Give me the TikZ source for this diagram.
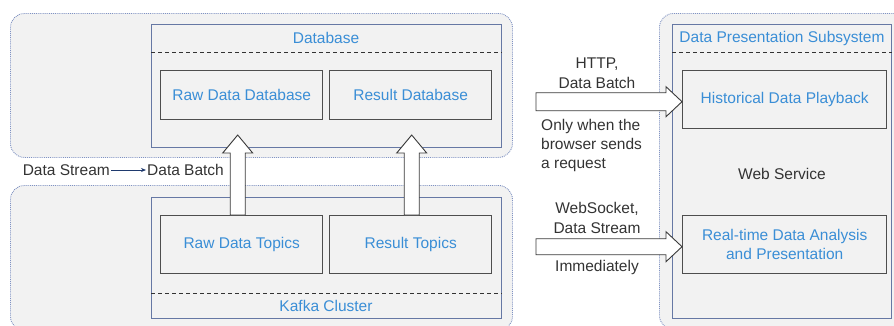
\documentclass[tikz,border=0pt]{standalone}
\usepackage{fontspec}
\setmainfont{Liberation Sans}
\usetikzlibrary{arrows.meta,calc}
\definecolor{bgc}{HTML}{F2F2F2}
\definecolor{outerc}{HTML}{7F92C2}
\definecolor{contc}{HTML}{6678A4}
\definecolor{boxc}{HTML}{4E4E4E}
\definecolor{txtblue}{HTML}{3A8ED6}
\definecolor{txtdark}{HTML}{333333}
\definecolor{arrc}{HTML}{3A3A3A}
\definecolor{navy}{HTML}{1F3A6E}
\tikzset{
  outerbox/.style={draw=outerc, densely dotted, fill=bgc, rounded corners=14pt, line width=0.9pt, anchor=north west},
  container/.style={draw=contc, line width=1.2pt, fill=bgc, anchor=north west},
  inbox/.style={draw=boxc, line width=1.4pt, fill=bgc, text=txtblue, align=center, font=\fontsize{15.5}{19}\selectfont, anchor=north west},
  bluelabel/.style={text=txtblue, font=\fontsize{15.5}{19}\selectfont, inner sep=0pt},
  darklabel/.style={text=txtdark, font=\fontsize{15.5}{19.5}\selectfont, inner sep=0pt},
  divider/.style={draw=txtdark, dashed, line width=0.9pt, dash pattern=on 4pt off 3pt},
  barrow/.style={draw=arrc, fill=white, line width=0.9pt, line join=miter},
  thinarrow/.style={draw=navy, line width=0.8pt, -{Stealth[length=5pt,width=4pt]}}
}
\begin{document}
\begin{tikzpicture}[x=1pt,y=1pt]
\useasboundingbox (0,0) rectangle (894,-325);
\begin{scope}
\clip (0,0) rectangle (894,-325);
% outer dotted regions
\node[outerbox, minimum width=502pt, minimum height=144pt] (topouter) at (10,-13) {};
\node[outerbox, minimum width=502pt, minimum height=145pt] (botouter) at (10,-185) {};
\node[outerbox, minimum width=250pt, minimum height=316pt] (rightouter) at (659,-13) {};
% containers
\node[container, minimum width=350pt, minimum height=123pt] (db) at (151,-24) {};
\node[container, minimum width=350pt, minimum height=121pt] (kafka) at (151,-197) {};
\node[container, minimum width=219pt, minimum height=294pt] (pres) at (672,-24) {};
\end{scope}
% dividers
\draw[divider] ($(db.north west)+(0,-28)$) coordinate (dbl) -- ($(db.north east)+(0,-28)$) coordinate (dbr);
\draw[divider] ($(kafka.south west)+(0,26)$) coordinate (kl) -- ($(kafka.south east)+(0,26)$) coordinate (kr);
\draw[divider] ($(pres.north west)+(0,-28)$) coordinate (pl) -- ($(pres.north east)+(0,-28)$) coordinate (pr);
% container labels
\node[bluelabel] (dblabel) at (326,-38) {Database};
\node[bluelabel] (kafkalabel) at (326,-306) {Kafka Cluster};
\node[bluelabel] (preslabel) at (782,-38) {Data Presentation Subsystem};
% inner boxes
\node[inbox, minimum width=162pt, minimum height=49pt] (rdd) at (160,-70) {Raw Data Database};
\node[inbox, minimum width=162pt, minimum height=49pt] (resdb) at (329,-70) {Result Database};
\node[inbox, minimum width=162pt, minimum height=58pt] (rdt) at (160,-215) {Raw Data Topics};
\node[inbox, minimum width=162pt, minimum height=58pt] (rest) at (329,-215) {Result Topics};
\node[inbox, minimum width=204pt, minimum height=58pt] (hdp) at (682,-70) {Historical Data Playback};
\node[inbox, minimum width=204pt, minimum height=58pt] (rta) at (682,-215) {Real-time Data Analysis\\and Presentation};
% text labels
\node[darklabel] (ws) at (782,-174) {Web Service};
\node[darklabel, anchor=east] (ds) at (110,-170) {Data Stream};
\node[darklabel, anchor=west] (dbatch) at (147,-170) {Data Batch};
\draw[thinarrow] ([xshift=1pt]ds.east) -- ([xshift=-1pt]dbatch.west);
\node[darklabel, align=center] (http) at (597,-73) {HTTP,\\Data Batch};
\node[darklabel, align=left, anchor=north west, font=\fontsize{15.5}{19}\selectfont] (only) at (541,-119) {Only when the\\browser sends\\a request};
\node[darklabel, align=center] (wsock) at (597,-218) {WebSocket,\\Data Stream};
\node[darklabel] (imm) at (597,-267) {Immediately};
% vertical block arrows
\draw[barrow] ([xshift=-11.5pt]rdt.north) -- ++(0,62) -- ++(-7.5,0) -- ++(15,18) -- ++(15,-18) -- ++(-7.5,0) -- ++(0,-62) -- cycle;
\draw[barrow] ([xshift=-6.5pt]rest.north) -- ++(0,62) -- ++(-7.5,0) -- ++(15,18) -- ++(15,-18) -- ++(-7.5,0) -- ++(0,-62) -- cycle;
% horizontal block arrows
\draw[barrow] ([yshift=-2pt]hdp.west) -- ++(-16,15) -- ++(0,-6) -- ++(-130,0) -- ++(0,-18) -- ++(130,0) -- ++(0,-6) -- cycle;
\draw[barrow] ([yshift=-2pt]rta.west) -- ++(-16,15) -- ++(0,-7) -- ++(-130,0) -- ++(0,-16) -- ++(130,0) -- ++(0,-7) -- cycle;
\end{tikzpicture}
\end{document}
